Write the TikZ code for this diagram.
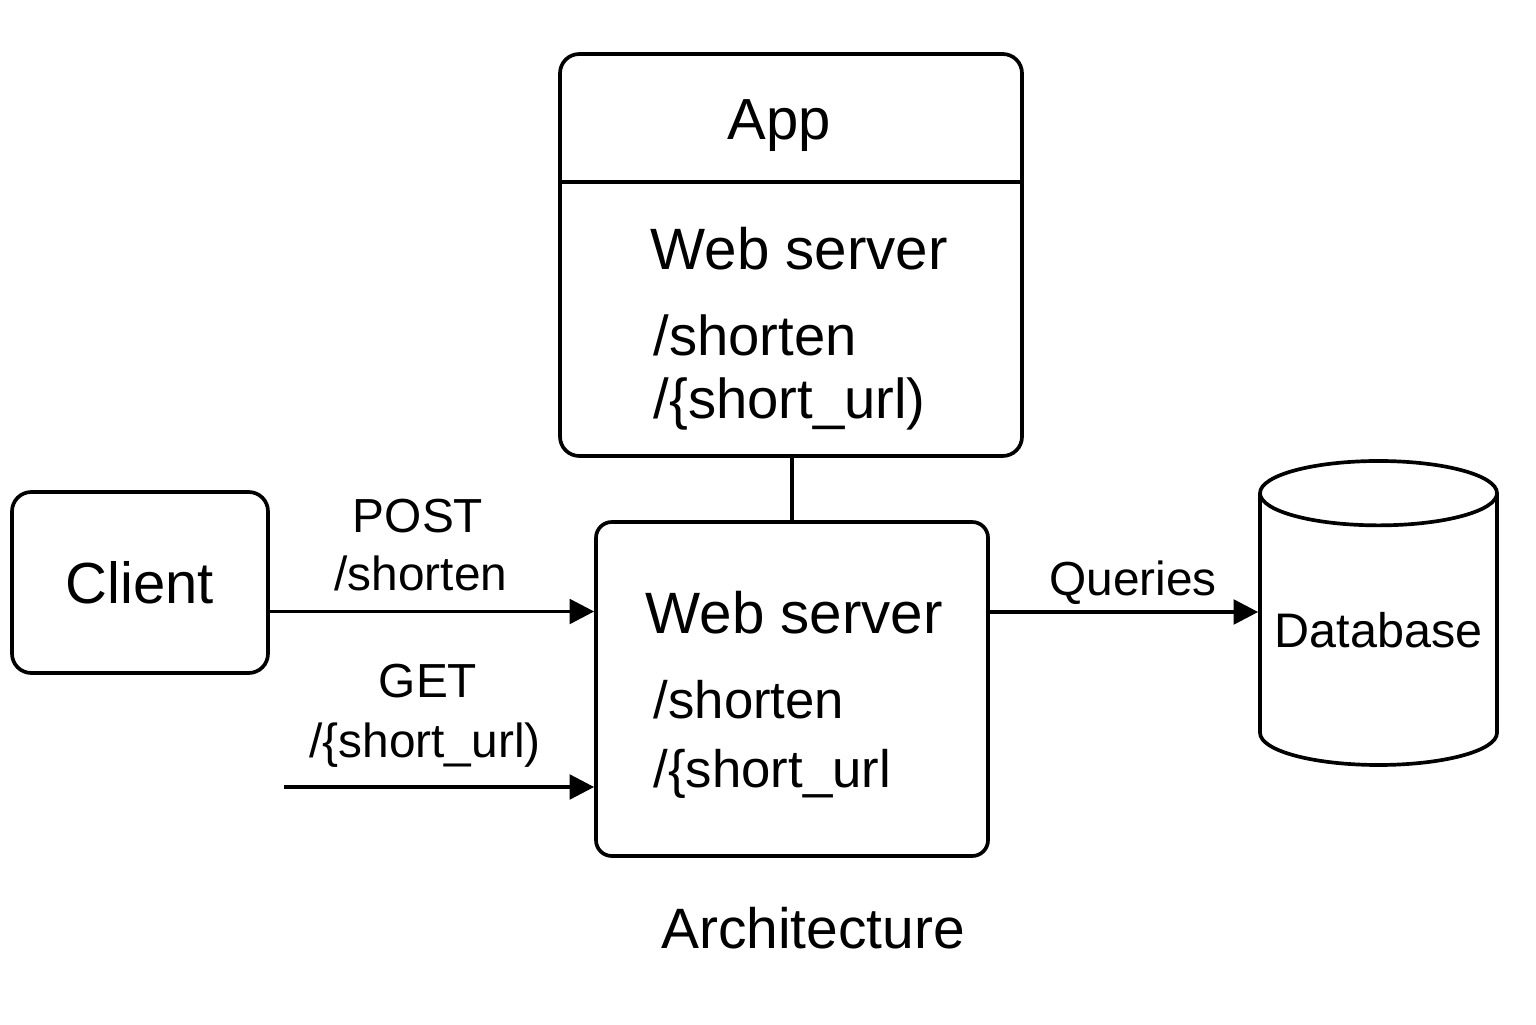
\documentclass[tikz,border=0pt]{standalone}
\usepackage{fontspec}
\setmainfont{Liberation Sans}
\usetikzlibrary{arrows.meta,shapes.geometric}

\begin{document}
\begin{tikzpicture}
		\tikzstyle {box} = [draw, line width=1.05pt, rounded corners=5.5pt, inner sep=0pt]
		\tikzstyle {arr} = [-{Triangle[length=7pt,width=7pt]}, line width=1.05pt]
		\tikzstyle {txt} = [inner sep=0pt, anchor=base west]
		\tikzstyle {lbl} = [inner sep=0pt, anchor=base, font=\fontsize{13.6}{16}\selectfont]

		\useasboundingbox (0,0) rectangle (15.36,10.24);

		% boxes
		\node[box, minimum width=4.62cm, minimum height=4.02cm] (app) at (7.91,7.69) {};
		\node[box, rounded corners=4.5pt, minimum width=3.92cm, minimum height=3.34cm] (web) at (7.92,3.35) {};
		\node[box, minimum width=2.56cm, minimum height=1.81cm, font=\fontsize{16.5}{20}\selectfont] (client) at (1.40,4.415) {Client};
		\node[draw, line width=1.05pt, cylinder, shape border rotate=90, aspect=0.31,
		      minimum width=2.37cm, minimum height=3.04cm, inner sep=0pt,
		      font=\fontsize{13.8}{16}\selectfont] (db) at (13.785,3.94) {Database};

		\draw[line width=1.05pt] (app.west |- 0,8.42) coordinate (sepl) -- (sepl -| app.east);

		% texts
		\node[inner sep=0pt, anchor=base, font=\fontsize{16.5}{20}\selectfont] (apptitle) at (7.79,8.84) {App};
		\node[txt, font=\fontsize{16.6}{20}\selectfont] (appweb) at (6.50,7.54) {Web server};
		\node[txt, font=\fontsize{16}{19}\selectfont] (appshort) at (6.53,6.69) {/shorten};
		\node[txt, font=\fontsize{16}{19}\selectfont] (appurl) at (6.53,6.06) {/\{short\_url)};

		\node[txt, font=\fontsize{16.6}{20}\selectfont] (webname) at (6.45,3.91) {Web server};
		\node[txt, font=\fontsize{15}{18}\selectfont] (webshort) at (6.53,3.06) {/shorten};
		\node[txt, font=\fontsize{15}{18}\selectfont] (weburl) at (6.53,2.37) {/\{short\_url};

		\node[inner sep=0pt, anchor=base, font=\fontsize{16.2}{20}\selectfont] (caption) at (8.13,0.76) {Architecture};

		% connectors
		\draw[line width=1.05pt] (web.north) -- (web.north |- app.south);

		\draw[arr] ([yshift=-2.9mm]client.east) -- ([yshift=-2.9mm]client.east -| web.west);
		\node[lbl] (post) at (4.18,4.92) {POST};
		\node[lbl] (postpath) at (4.21,4.34) {/shorten};

		\coordinate (getin) at (2.84,2.37);
		\draw[arr] (getin) -- (getin -| web.west);
		\node[lbl] (get) at (4.28,3.27) {GET};
		\node[lbl] (getpath) at (4.25,2.67) {/\{short\_url)};

		\draw[arr] ([yshift=1.8mm]db.west -| web.east) -- ([yshift=1.8mm]db.west);
		\node[lbl] (queries) at (11.33,4.29) {Queries};
	\end{tikzpicture}
\end{document}
